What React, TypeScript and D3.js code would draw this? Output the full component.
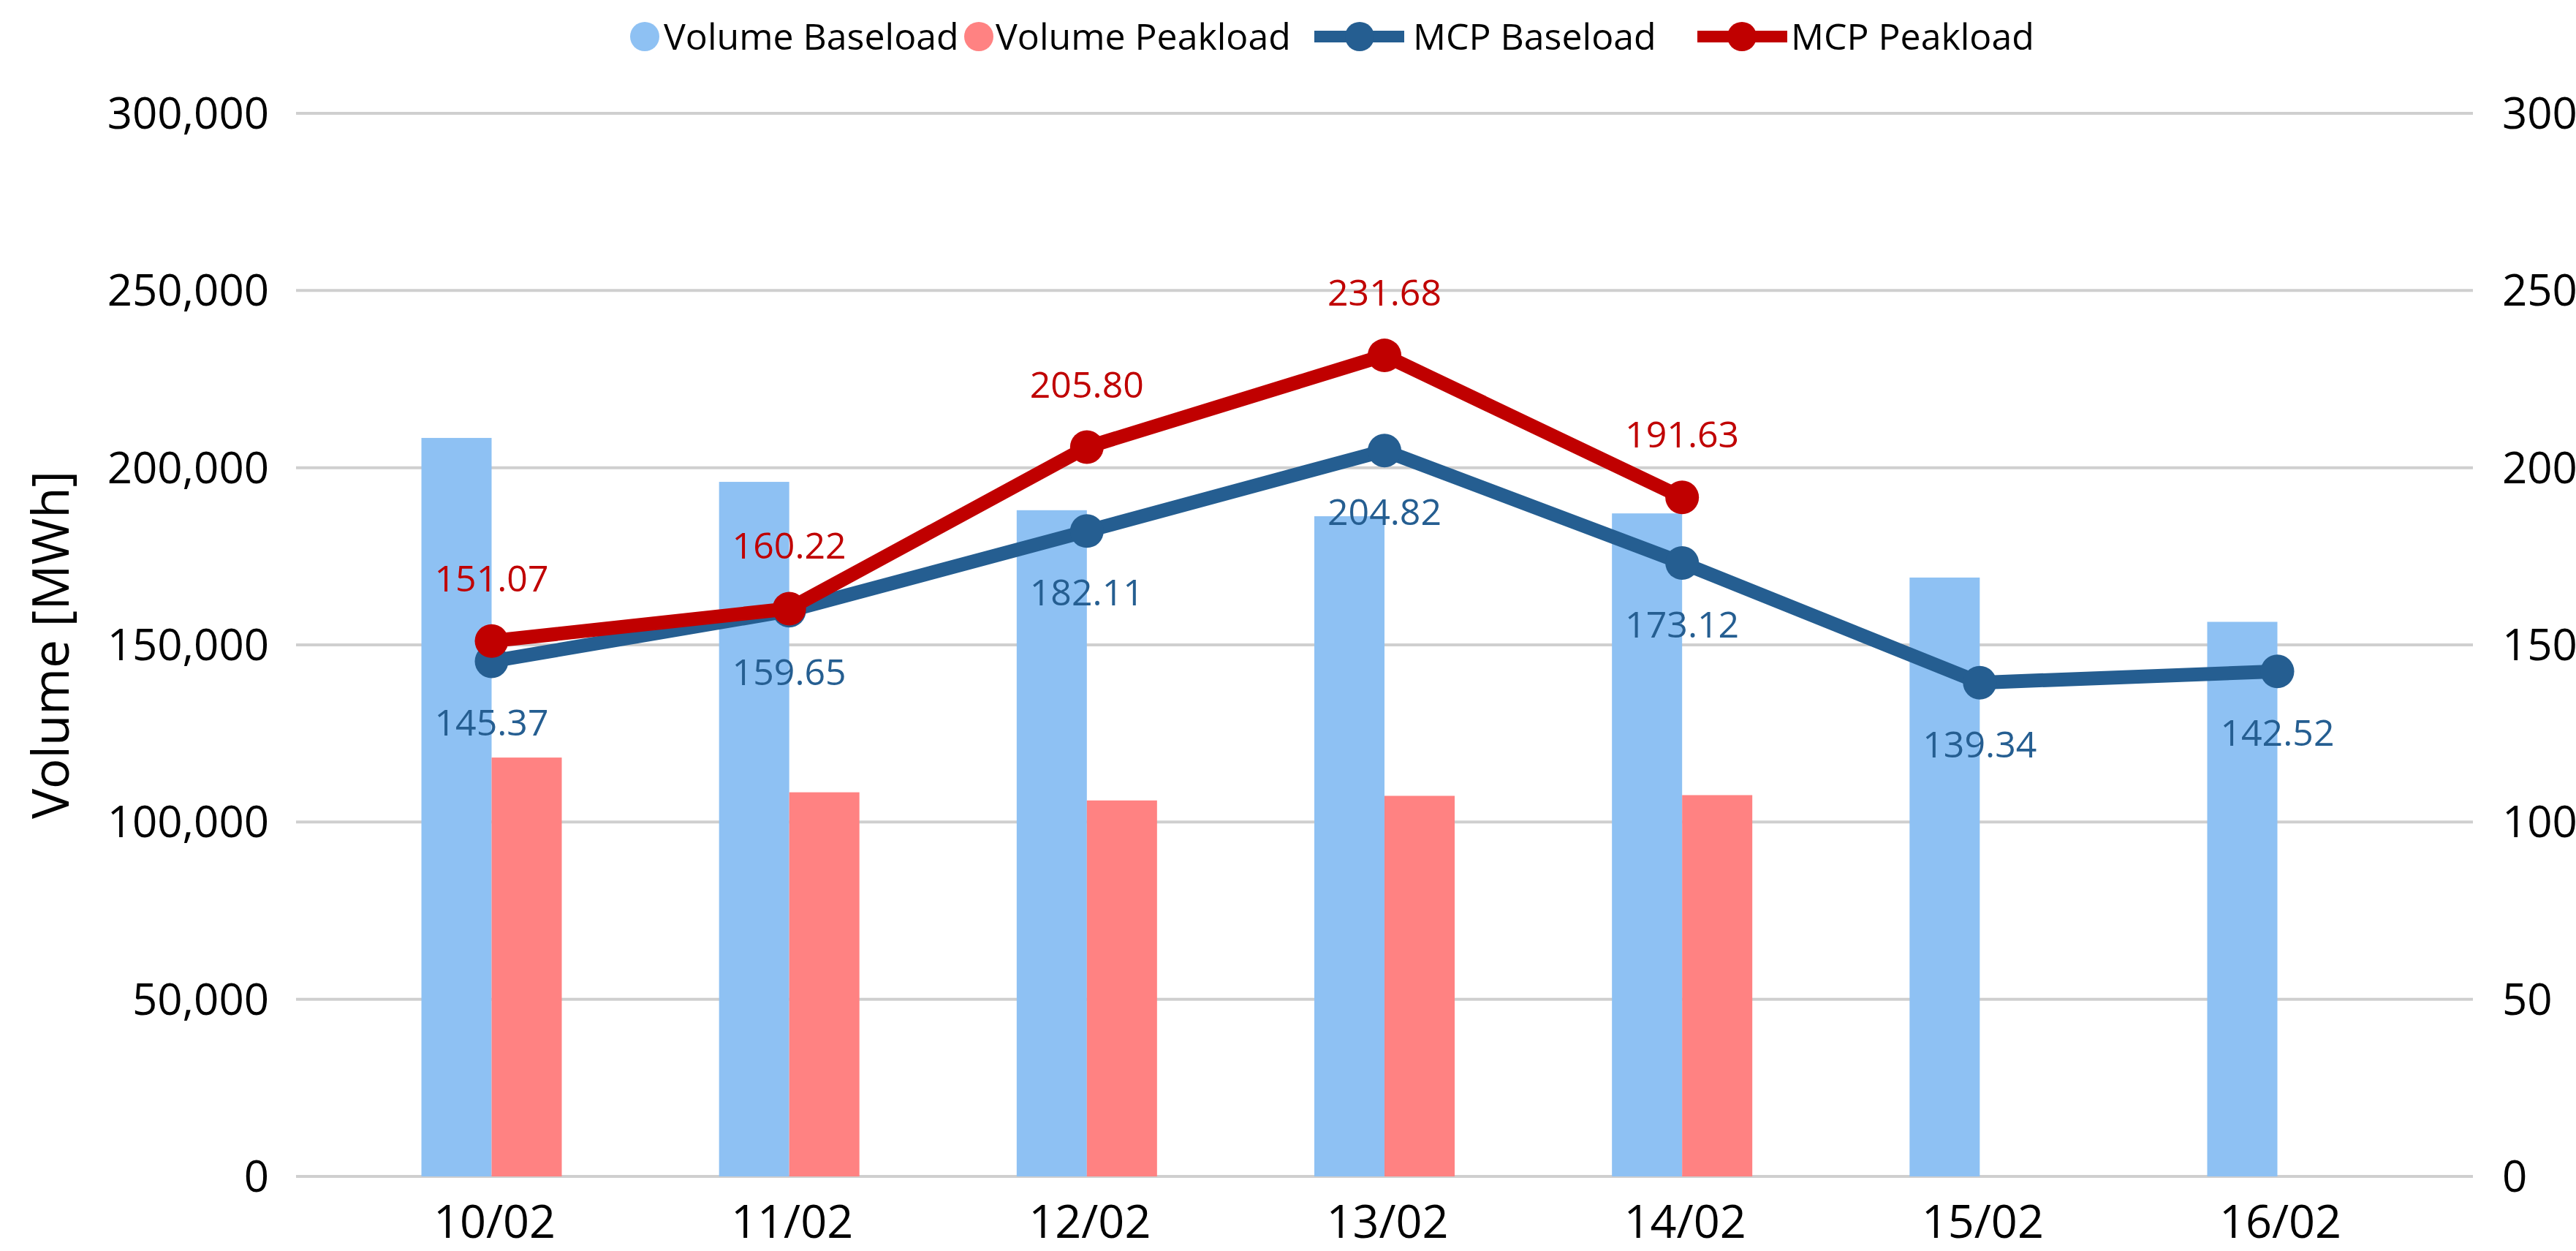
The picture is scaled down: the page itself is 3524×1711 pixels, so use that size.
import React, { useEffect } from "react";
import * as d3 from "d3";

const categories = ["10/02", "11/02", "12/02", "13/02", "14/02", "15/02", "16/02"];
const volumeBaseload = [208400, 196000, 188000, 186300, 187100, 169000, 156500];
const volumePeakload = [118200, 108400, 106100, 107400, 107600];
const mcpBaseload = [145.37, 159.65, 182.11, 204.82, 173.12, 139.34, 142.52];
const mcpPeakload = [151.07, 160.22, 205.8, 231.68, 191.63];
const leftTicks = [0, 50000, 100000, 150000, 200000, 250000, 300000];
const rightTicks = [0, 50, 100, 150, 200, 250, 300];

const W = 3524;
const H = 1711;
const FONT = "'Segoe UI', 'Open Sans', 'Noto Sans', sans-serif";

const C_VB = "#8EC1F3";
const C_VP = "#FF8282";
const C_MB = "#255E91";
const C_MP = "#C00000";
const C_GRID = "#CFCFCF";

export default function App() {
  useEffect(() => {
    document.body.style.margin = "0";
    document.body.style.overflow = "hidden";
  }, []);

  const plotL = 405;
  const plotR = 3383;
  const plotT = 155;
  const plotB = 1609;

  const x = d3.scalePoint<string>().domain(categories).range([plotL, plotR]).padding(0.657);
  const yL = d3.scaleLinear().domain([0, 300000]).range([plotB, plotT]);
  const yR = d3.scaleLinear().domain([0, 300]).range([plotB, plotT]);
  const barW = 96;
  const fmtL = d3.format(",");
  const fmt2 = d3.format(".2f");

  const line = d3
    .line<number>()
    .x((_, i) => x(categories[i]) as number)
    .y((d) => yR(d));

  return (
    <svg
      width={W}
      height={H}
      style={{ position: "absolute", left: 0, top: 0, background: "#fff" }}
      fontFamily={FONT}
    >
      <rect x={0} y={0} width={W} height={H} fill="#fff" />
      {leftTicks.map((t) => (
        <line key={t} x1={plotL} x2={plotR} y1={yL(t)} y2={yL(t)} stroke={C_GRID} strokeWidth={4} />
      ))}
      {leftTicks.map((t) => (
        <text key={"l" + t} x={368} y={yL(t) + 21} textAnchor="end" fontSize={60} fill="#000">
          {fmtL(t)}
        </text>
      ))}
      {rightTicks.map((t) => (
        <text key={"r" + t} x={3423} y={yR(t) + 21} textAnchor="start" fontSize={60} fill="#000">
          {t}
        </text>
      ))}
      <text
        transform={`translate(94, ${(plotT + plotB) / 2}) rotate(-90)`}
        textAnchor="middle"
        fontSize={69}
        fill="#000"
      >
        Volume [MWh]
      </text>
      {volumeBaseload.map((v, i) => (
        <rect
          key={"vb" + i}
          x={(x(categories[i]) as number) - barW}
          y={yL(v)}
          width={barW}
          height={plotB - yL(v)}
          fill={C_VB}
        />
      ))}
      {volumePeakload.map((v, i) => (
        <rect
          key={"vp" + i}
          x={x(categories[i]) as number}
          y={yL(v)}
          width={barW}
          height={plotB - yL(v)}
          fill={C_VP}
        />
      ))}
      <path d={line(mcpBaseload) || ""} fill="none" stroke={C_MB} strokeWidth={19} strokeLinejoin="round" />
      {mcpBaseload.map((v, i) => (
        <circle key={"mb" + i} cx={x(categories[i]) as number} cy={yR(v)} r={23} fill={C_MB} />
      ))}
      <path d={line(mcpPeakload) || ""} fill="none" stroke={C_MP} strokeWidth={19} strokeLinejoin="round" />
      {mcpPeakload.map((v, i) => (
        <circle key={"mp" + i} cx={x(categories[i]) as number} cy={yR(v)} r={23} fill={C_MP} />
      ))}
      {mcpBaseload.map((v, i) => (
        <text
          key={"lb" + i}
          x={x(categories[i]) as number}
          y={yR(v) + 102}
          textAnchor="middle"
          fontSize={50}
          fill={C_MB}
        >
          {fmt2(v)}
        </text>
      ))}
      {mcpPeakload.map((v, i) => (
        <text
          key={"lp" + i}
          x={x(categories[i]) as number}
          y={yR(v) - 68}
          textAnchor="middle"
          fontSize={50}
          fill={C_MP}
        >
          {fmt2(v)}
        </text>
      ))}
      {categories.map((c) => (
        <text key={"x" + c} x={(x(c) as number) + 4} y={1693} textAnchor="middle" fontSize={63} fill="#000">
          {c}
        </text>
      ))}
      <g fontSize={50} fill="#000">
        <circle cx={882} cy={50} r={20} fill={C_VB} />
        <text x={908} y={68}>Volume Baseload</text>
        <circle cx={1339} cy={50} r={20} fill={C_VP} />
        <text x={1362} y={68}>Volume Peakload</text>
        <line x1={1798} x2={1921} y1={50} y2={50} stroke={C_MB} strokeWidth={16} />
        <circle cx={1860} cy={50} r={20} fill={C_MB} />
        <text x={1933} y={68}>MCP Baseload</text>
        <line x1={2322} x2={2445} y1={50} y2={50} stroke={C_MP} strokeWidth={16} />
        <circle cx={2383} cy={50} r={20} fill={C_MP} />
        <text x={2450} y={68}>MCP Peakload</text>
      </g>
    </svg>
  );
}
